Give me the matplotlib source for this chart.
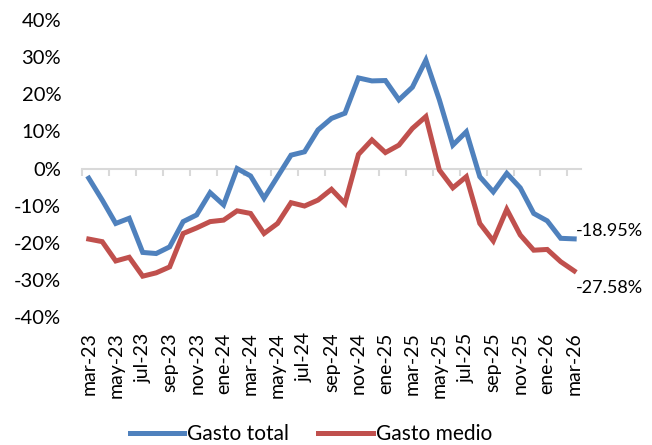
import matplotlib.pyplot as plt
from matplotlib.ticker import FuncFormatter, FixedLocator

# monthly year-on-year change, mar-23 .. mar-26
months = ['mar-23', 'abr-23', 'may-23', 'jun-23', 'jul-23', 'ago-23', 'sep-23', 'oct-23',
          'nov-23', 'dic-23', 'ene-24', 'feb-24', 'mar-24', 'abr-24', 'may-24', 'jun-24',
          'jul-24', 'ago-24', 'sep-24', 'oct-24', 'nov-24', 'dic-24', 'ene-25', 'feb-25',
          'mar-25', 'abr-25', 'may-25', 'jun-25', 'jul-25', 'ago-25', 'sep-25', 'oct-25',
          'nov-25', 'dic-25', 'ene-26', 'feb-26', 'mar-26']

gasto_total = [-2.6, -8.5, -14.8, -13.4, -22.6, -22.9, -21.1, -14.3, -12.5, -6.5,
               -9.8, 0.0, -2.0, -8.0, -2.2, 3.6, 4.5, 10.4, 13.5, 14.9,
               24.4, 23.6, 23.7, 18.5, 21.9, 29.2, 18.5, 6.3, 9.9, -2.2,
               -6.3, -1.3, -5.2, -12.1, -14.1, -18.8, -18.95]

gasto_medio = [-19.0, -19.7, -24.9, -23.9, -29.0, -28.1, -26.5, -17.5, -16.0, -14.3,
               -13.9, -11.4, -12.1, -17.5, -14.8, -9.2, -10.1, -8.5, -5.6, -9.4,
               3.8, 7.7, 4.3, 6.3, 10.8, 14.0, -0.4, -5.2, -2.2, -14.8,
               -19.5, -11.0, -17.9, -22.0, -21.8, -25.1, -27.58]

plt.rcParams['font.family'] = ['Lato', 'DejaVu Sans']

blue = '#4F81BD'
red = '#C0504D'

fig = plt.figure(figsize=(6.52, 4.45), dpi=100)
ax = fig.add_axes([0.1258, 0.2876, 0.7652, 0.6674])

x = range(len(months))
ax.plot(x, gasto_total, color=blue, lw=3.6, label='Gasto total', solid_joinstyle='miter')
ax.plot(x, gasto_medio, color=red, lw=3.6, label='Gasto medio', solid_joinstyle='miter')

ax.set_xlim(-0.5, len(months) - 0.5)
ax.set_ylim(-40, 40)
ax.set_yticks(range(-40, 41, 10))
ax.yaxis.set_major_formatter(FuncFormatter(lambda v, p: f'{v:.0f}%'))

ax.set_xticks(list(x)[::2])
ax.set_xticklabels(months[::2], rotation=90)
ax.tick_params(axis='both', length=0, labelsize=14, colors='black')
ax.tick_params(axis='x', pad=11)
ax.tick_params(axis='y', pad=15, labelsize=14.5)
for s in ax.spines.values():
    s.set_visible(False)

# category axis drawn through 0%
zero_axis = ax.secondary_xaxis(0.5)
zero_axis.set_alignment('bottom')
zero_axis.spines['bottom'].set_color('#d9d9d9')
zero_axis.spines['bottom'].set_linewidth(1.5)
zero_axis.xaxis.set_major_locator(FixedLocator([i - 0.5 for i in range(0, len(months) + 1, 2)]))
zero_axis.tick_params(axis='x', direction='out', length=5, width=1.5, color='#d9d9d9',
                      labelbottom=False, labeltop=False)
ax.set_zorder(1)
ax.patch.set_visible(False)

# end-of-series labels
ax.annotate(f'{gasto_total[-1]:.2f}%', (len(months) - 1, gasto_total[-1]),
            xytext=(1, 6), textcoords='offset points', ha='left', va='center', fontsize=13)
ax.annotate(f'{gasto_medio[-1]:.2f}%', (len(months) - 1, gasto_medio[-1]),
            xytext=(1, -12), textcoords='offset points', ha='left', va='center', fontsize=13)

fig.legend(loc='lower center', bbox_to_anchor=(0.477, -0.04), ncol=2, frameon=False,
           fontsize=15, handlelength=2.6, handletextpad=0.15, columnspacing=1.4)

fig.savefig('out.png', dpi=100)
